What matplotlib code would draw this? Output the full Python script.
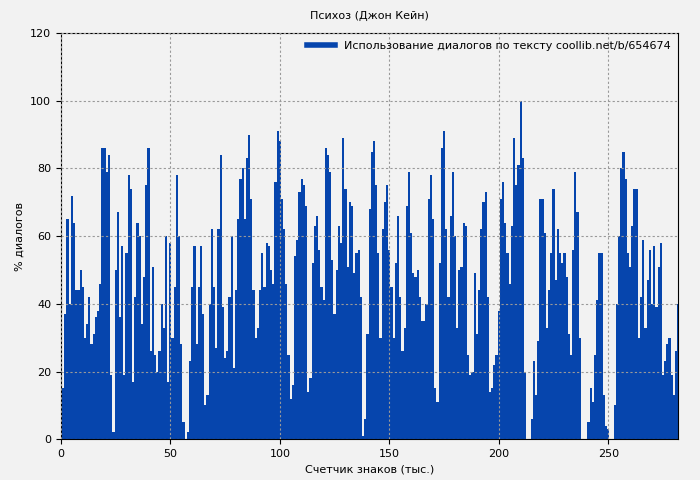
import matplotlib
matplotlib.use("Agg")
import matplotlib.pyplot as plt
import numpy as np

title = "Психоз (Джон Кейн)"
legend_label = "Использование диалогов по тексту coollib.net/b/654674"
xlabel = "Счетчик знаков (тыс.)"
ylabel = "% диалогов"

# % dialogue per thousand characters (x = 0, 1, 2, ...)
seg1 = [2, 15, 37, 65, 40, 72, 64, 44, 44, 50, 45, 30, 34, 42, 28, 31, 36, 38, 46, 86,
        86, 79, 84, 19, 2, 50, 67, 36, 57, 19, 55, 78, 74, 17, 42, 64, 60, 34, 48, 75,
        86, 26, 51, 25, 20, 26, 40, 33, 60, 17]
seg2 = [58, 30, 45, 78, 60, 28, 5, 0, 2, 23, 45, 57, 28, 45, 57, 37, 10, 13, 40, 62,
        45, 27, 62, 84, 39, 24, 26, 42, 60, 21, 44, 65, 77, 80, 65, 83, 90, 71, 44, 30,
        33, 44, 55, 45, 58, 57, 50, 46, 76, 91]
seg3 = [88, 71, 62, 46, 25, 12, 16, 54, 59, 73, 77, 75, 69, 14, 18, 52, 63, 66, 56, 45,
        41, 86, 84, 79, 53, 37, 50, 63, 58, 89, 74, 51, 70, 69, 49, 55, 56, 42, 1, 6,
        31, 68, 85, 88, 75, 55, 30, 62, 70]
seg4 = [75, 56, 45, 30, 52, 66, 42, 26, 33, 69, 79, 61, 49, 48, 50, 42, 35, 35, 40, 71,
        78, 65, 15, 11, 52, 86, 91, 62, 42, 66, 79, 60, 33, 50, 51, 64, 63, 25, 19, 20,
        49, 31, 44, 62, 70, 73, 42, 14, 15, 22]
seg5 = [25, 38, 71, 76, 64, 55, 46, 63, 89, 75, 81, 100, 83, 20, 0, 0, 6, 23, 13, 29,
        71, 71, 61, 33, 44, 55, 74, 47, 62, 55, 52, 55, 48, 31, 25, 56, 79, 67, 30, 0,
        0, 0, 5, 15, 11, 25, 41, 55, 55, 13, 4]
seg6 = [3, 0, 0, 10, 40, 60, 80, 85, 77, 55, 51, 63, 74, 74, 30, 42, 59, 33, 47, 56,
        40, 57, 39, 51, 58, 19, 23, 28, 30, 19, 13, 26, 40, 40, 33]

values = seg1 + seg2 + seg3 + seg4 + seg5 + seg6
x = np.arange(len(values))

color = "#0645ad"
bg = "#f2f2f2"

fig = plt.figure(figsize=(7, 4.8), dpi=100, facecolor=bg)
ax = fig.add_axes([0.087, 0.085, 0.882, 0.846], facecolor=bg)
ax.bar(x, values, width=1.0, color=color, linewidth=0, label=legend_label)
ax.set_xlim(0, 282)
ax.set_ylim(0, 120)
ax.set_xticks([0, 50, 100, 150, 200, 250])
ax.set_yticks(range(0, 121, 20))
ax.grid(True, color="#999999", linestyle=(0, (2, 2)), linewidth=0.8)
ax.set_axisbelow(False)
ax.tick_params(labelsize=8)
ax.set_title(title, fontsize=8, pad=10)
ax.set_xlabel(xlabel, fontsize=8)
ax.set_ylabel(ylabel, fontsize=8)
from matplotlib.lines import Line2D
h = Line2D([0], [0], color=color, linewidth=4)
ax.legend([h], [legend_label], loc="upper right", frameon=False, fontsize=8,
          handlelength=2.5, borderaxespad=0.3)
fig.savefig("out.png", dpi=100, facecolor=bg)
